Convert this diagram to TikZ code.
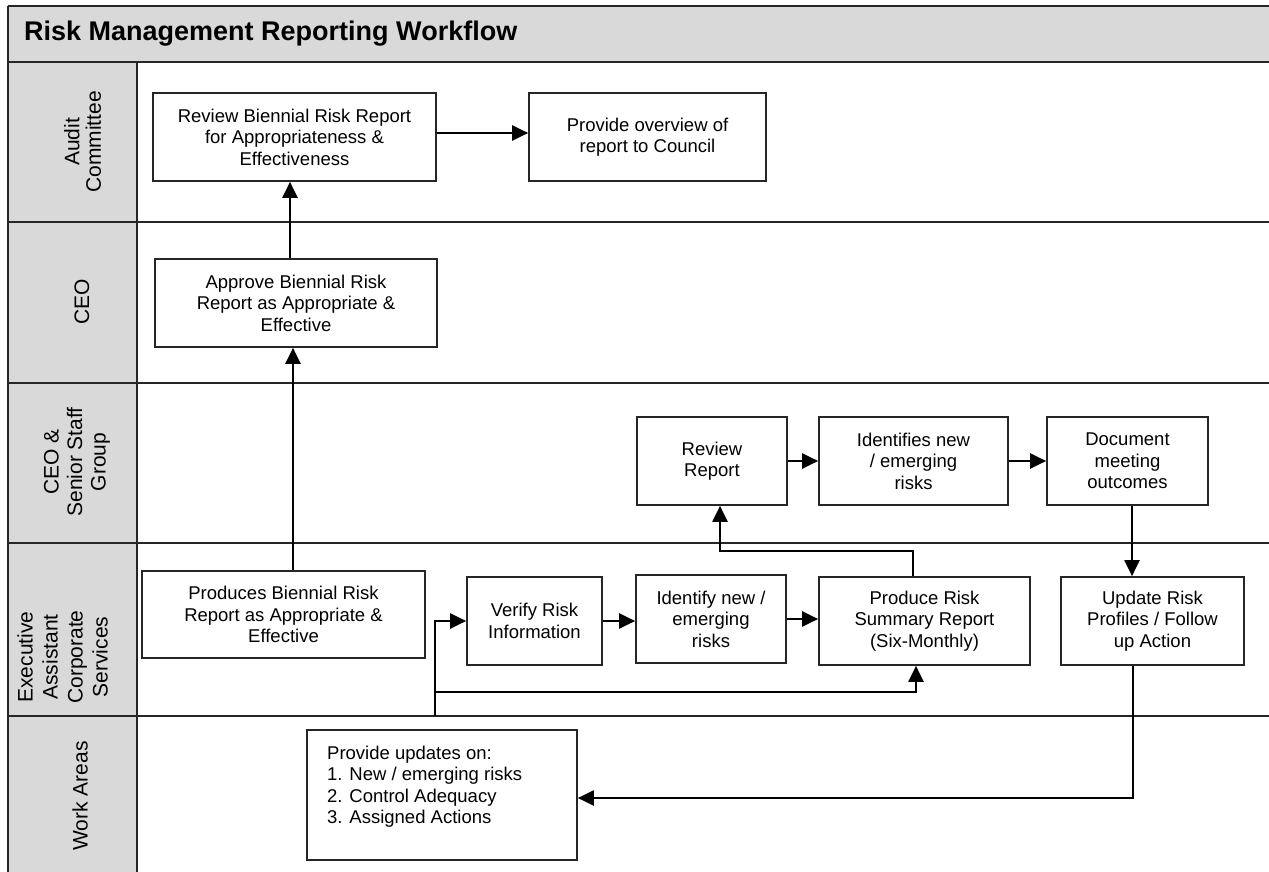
\documentclass[tikz,border=0pt]{standalone}
\usepackage{fontspec}
\setmainfont{Liberation Sans}
\usetikzlibrary{arrows.meta}
\begin{document}
\begin{tikzpicture}[x=1pt,y=-1pt,
  box/.style={draw=black!85, line width=1.7pt, rectangle, align=center, inner sep=0pt,
    font=\fontsize{18.5}{21.5}\selectfont, fill=white},
  arr/.style={draw=black, line width=2.2pt, -{Triangle[length=16pt,width=15pt]}},
  lane/.style={draw=black!85, line width=1.8pt},
  lbl/.style={rotate=90, align=center, inner sep=0pt}]
\useasboundingbox (0,0) rectangle (1269,872);
\fill[white] (0,0) rectangle (1269,872);
% header and lane column
\fill[black!15] (8,6) rectangle (1269,62);
\fill[black!15] (8,62) rectangle (137,872);
\draw[lane] (8,6) -- (1269,6);
\draw[lane] (8,62) -- (1269,62);
\draw[lane] (8,222) -- (1269,222);
\draw[lane] (8,383) -- (1269,383);
\draw[lane] (8,543) -- (1269,543);
\draw[lane] (8,716) -- (1269,716);
\draw[lane] (8,6) -- (8,872);
\draw[lane] (137,62) -- (137,872);
% title
\node[anchor=west, inner sep=0pt, font=\bfseries\fontsize{27}{31}\selectfont] (title) at (24,34) {Risk Management Reporting Workflow};
% lane labels
\node[lbl, font=\fontsize{21}{21.5}\selectfont] (lA) at (82.5,142) {Audit\\Committee};
\node[lbl, font=\fontsize{21}{24}\selectfont] (lC) at (82,302) {CEO};
\node[lbl, font=\fontsize{21}{23.5}\selectfont] (lS) at (77,462) {CEO \&\\Senior Staff\\Group};
\node[lbl, font=\fontsize{21}{25}\selectfont] (lE) at (62.5,657) {Executive\\Assistant\\Corporate\\Services};
\node[lbl, font=\fontsize{21}{24}\selectfont] (lW) at (80,796) {Work Areas};
% boxes
\node[box, minimum width=283pt, minimum height=88pt] (rb) at (294.5,137) {Review Biennial Risk Report\\for Appropriateness \&\\Effectiveness};
\node[box, minimum width=237pt, minimum height=88pt] (po) at (647.5,137) {Provide overview of\\report to Council};
\node[box, minimum width=282pt, minimum height=88pt] (ap) at (296,303) {Approve Biennial Risk\\Report as Appropriate \&\\Effective};
\node[box, minimum width=283pt, minimum height=87pt] (pb) at (283.5,614.5) {Produces Biennial Risk\\Report as Appropriate \&\\Effective};
\node[box, minimum width=135pt, minimum height=88pt] (vr) at (534.5,621) {Verify Risk\\Information};
\node[box, minimum width=150pt, minimum height=88pt] (id) at (711,619) {Identify new /\\emerging\\risks};
\node[box, minimum width=211pt, minimum height=88pt] (ps) at (924.5,621) {Produce Risk\\Summary Report\\(Six-Monthly)};
\node[box, minimum width=183pt, minimum height=88pt] (ur) at (1152.5,621) {Update Risk\\Profiles / Follow\\up Action};
\node[box, minimum width=150pt, minimum height=88pt] (rr) at (712,461) {Review\\Report};
\node[box, minimum width=189pt, minimum height=88pt] (in) at (913.5,461) {Identifies new\\/ emerging\\risks};
\node[box, minimum width=161pt, minimum height=88pt] (dm) at (1127.5,461) {Document\\meeting\\outcomes};
\node[box, minimum width=270pt, minimum height=130pt] (pu) at (442,795) {};
\node[anchor=north west, align=left, inner sep=0pt, font=\fontsize{18.5}{21.3}\selectfont] (put) at (327,746) {Provide updates on:\\1. New / emerging risks\\2. Control Adequacy\\3. Assigned Actions};
% connectors
\draw[arr] ([xshift=9.5pt]pb.north) -- ([xshift=9.5pt]pb.north |- ap.south);
\draw[arr] ([xshift=-6pt]ap.north) -- ([xshift=-6pt]ap.north |- rb.south);
\draw[arr] ([yshift=4pt]rb.east) -- ([yshift=4pt]po.west);
\coordinate (s) at (435,716);
\coordinate (sb) at (435,692);
\draw[arr] (s) |- (vr.west);
\draw[arr] (sb) -| ([xshift=-8.5pt]ps.south);
\draw[arr] (vr.east) -- (vr.east -| id.west);
\draw[arr] (id.east) -- (id.east -| ps.west);
\draw[arr] ([xshift=-11.5pt]ps.north) -- ++(0,-25) -| ([xshift=8pt]rr.south);
\draw[arr] (rr.east) -- (rr.east -| in.west);
\draw[arr] (in.east) -- (in.east -| dm.west);
\draw[arr] ([xshift=4.5pt]dm.south) -- ([xshift=4.5pt]dm.south |- ur.north);
\draw[arr] ([xshift=-19.5pt]ur.south) |- ([yshift=-3pt]pu.east);
\end{tikzpicture}
\end{document}
